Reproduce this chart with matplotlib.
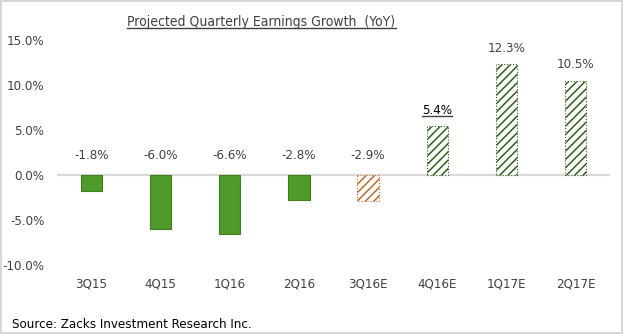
import matplotlib.pyplot as plt
from matplotlib.lines import Line2D
from matplotlib.patches import Rectangle

quarters = ['3Q15', '4Q15', '1Q16', '2Q16', '3Q16E', '4Q16E', '1Q17E', '2Q17E']
growth = [-1.8, -6.0, -6.6, -2.8, -2.9, 5.4, 12.3, 10.5]
labels = ['-1.8%', '-6.0%', '-6.6%', '-2.8%', '-2.9%', '5.4%', '12.3%', '10.5%']
y_ticks = [15, 10, 5, 0, -5, -10]
y_labels = ['15.0%', '10.0%', '5.0%', '0.0%', '-5.0%', '-10.0%']

GREEN = '#4f9a2a'
DARK_GREEN = '#2f5e1a'
ORANGE = '#c0692c'
TXT = '#404040'


def main():
    plt.rcParams['font.family'] = ['DejaVu Sans']
    plt.rcParams['font.stretch'] = 'condensed'
    plt.rcParams['hatch.linewidth'] = 1.1

    fig = plt.figure(figsize=(6.24, 3.34), dpi=100)
    ax = fig.add_axes([0.091, 0.207, 0.887, 0.673])

    x = list(range(len(quarters)))
    for i, v in enumerate(growth):
        if i < 4:
            ax.bar(i, v, width=0.31, color=GREEN, edgecolor='#3f7f22', lw=0.8, zorder=2)
        elif i == 4:
            ax.bar(i, v, width=0.31, color='white', edgecolor=ORANGE, hatch='////',
                   lw=0.8, ls=':', zorder=2)
        else:
            ax.bar(i, v, width=0.31, color='white', edgecolor=DARK_GREEN, hatch='////',
                   lw=0.8, ls=':', zorder=2)

    ax.axhline(0, color='#d9d9d9', lw=1.6, zorder=1)

    label_texts = []
    for i, (v, s) in enumerate(zip(growth, labels)):
        if v < 0:
            t = ax.text(i, 2.2, s, ha='center', va='center', fontsize=9.5, color=TXT)
        else:
            t = ax.annotate(s, (i, v), xytext=(0, 7), textcoords='offset points',
                            ha='center', va='bottom', fontsize=9.5,
                            color='black' if i == 5 else TXT)
        label_texts.append(t)

    ax.set_xlim(-0.5, 7.5)
    ax.set_ylim(-10, 15)
    ax.set_yticks(y_ticks)
    ax.set_yticklabels(y_labels)
    ax.set_xticks(x)
    ax.set_xticklabels(quarters)
    ax.tick_params(length=0, labelsize=9.5, labelcolor=TXT)
    ax.tick_params(axis='y', pad=9)
    ax.tick_params(axis='x', pad=9)
    for sp in ax.spines.values():
        sp.set_visible(False)

    title = fig.text(0.419, 0.934, 'Projected Quarterly Earnings Growth  (YoY)', ha='center',
                     va='center', fontsize=10, color=TXT)
    fig.text(0.019, 0.027, 'Source: Zacks Investment Research Inc.', ha='left', va='center',
             fontsize=9.5, color='black')

    # light border round the image
    fig.add_artist(Rectangle((0.002, 0.003), 0.995, 0.994, transform=fig.transFigure,
                             fill=False, edgecolor='#d0d0d0', lw=1.2))

    # underline the title and the 5.4% label
    fig.canvas.draw()
    r = fig.canvas.get_renderer()
    inv = fig.transFigure.inverted()
    for t in [title, label_texts[5]]:
        bb = t.get_window_extent(r)
        (x0, y0), (x1, _) = inv.transform([(bb.x0, bb.y0 + 1), (bb.x1, bb.y0)])
        fig.add_artist(Line2D([x0, x1], [y0, y0], transform=fig.transFigure,
                              color=TXT, lw=1))

    fig.savefig('out.png', dpi=100)


if __name__ == '__main__':
    main()
